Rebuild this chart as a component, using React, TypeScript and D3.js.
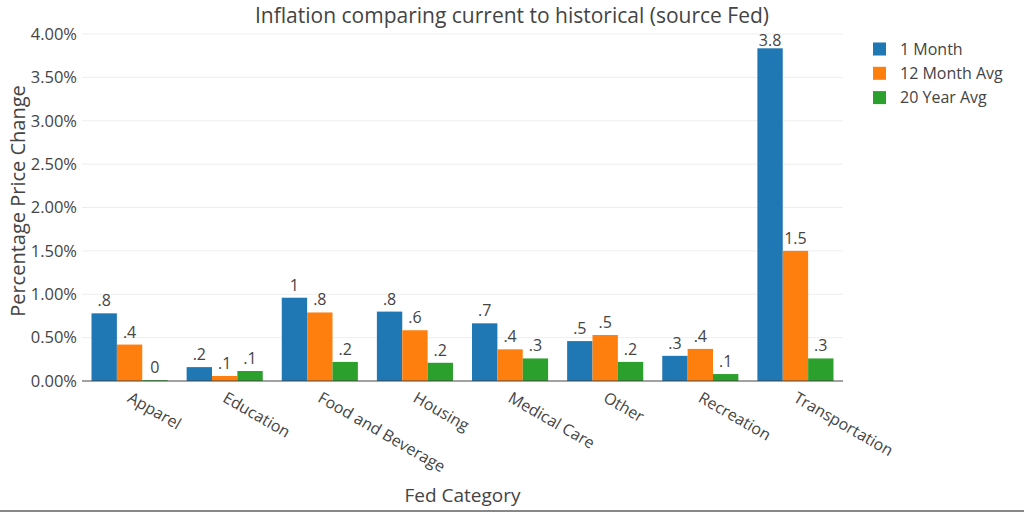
import React from "react";
import * as d3 from "d3";

const categories = ["Apparel", "Education", "Food and Beverage", "Housing", "Medical Care", "Other", "Recreation", "Transportation"];
const seriesNames = ["1 Month", "12 Month Avg", "20 Year Avg"];
const oneMonth = [0.78, 0.16, 0.96, 0.8, 0.665, 0.46, 0.29, 3.835];
const twelveMonthAvg = [0.42, 0.058, 0.79, 0.585, 0.365, 0.53, 0.37, 1.5];
const twentyYearAvg = [0.01, 0.115, 0.22, 0.21, 0.26, 0.22, 0.08, 0.26];
const yTicks = [0, 0.5, 1, 1.5, 2, 2.5, 3, 3.5, 4];
const colors = ["#1f77b4", "#ff7f0e", "#2ca02c"];

const W = 1024;
const H = 512;
const left = 82;
const right = 843;
const top = 34;
const bottom = 381;
const font = "'Open Sans', 'Noto Sans', sans-serif";
const textColor = "#444";

function label(v: number): string {
  let s = v.toFixed(1);
  if (s.endsWith(".0")) s = s.slice(0, -2);
  if (s.startsWith("0.")) s = s.slice(1);
  return s;
}

export default function App() {
  const series = [oneMonth, twelveMonthAvg, twentyYearAvg];
  const x = d3.scaleBand<string>().domain(categories).range([left, right]).paddingInner(0.2).paddingOuter(0.1);
  const xs = d3.scaleBand<string>().domain(seriesNames).range([0, x.bandwidth()]).padding(0);
  const y = d3.scaleLinear().domain([0, 4]).range([bottom, top]);
  const fmt = d3.format(".2f");

  return (
    <svg width={W} height={H} style={{ position: "fixed", left: 0, top: 0, background: "#fff" }} fontFamily={font}>
      <rect x={0} y={0} width={W} height={H} fill="#fff" />
      {yTicks.filter((t) => t > 0).map((t) => (
        <line key={"g" + t} x1={left} x2={right} y1={y(t)} y2={y(t)} stroke="#eee" strokeWidth={1} />
      ))}
      {yTicks.map((t) => (
        <text key={"t" + t} x={77} y={y(t)} dy="0.35em" textAnchor="end" fontSize={16.5} fill={textColor}>
          {fmt(t) + "%"}
        </text>
      ))}
      {categories.map((c, i) =>
        series.map((s, j) => {
          const v = s[i];
          const bx = (x(c) as number) + (xs(seriesNames[j]) as number);
          const bw = xs.bandwidth();
          const ly = Math.max(y(v) - 7, top + 12);
          return (
            <g key={c + j}>
              <rect x={bx} y={y(v)} width={bw} height={y(0) - y(v)} fill={colors[j]} />
              <text x={bx + bw / 2} y={ly} textAnchor="middle" fontSize={16} fill={textColor}>
                {label(v)}
              </text>
            </g>
          );
        })
      )}
      <line x1={left} x2={right} y1={y(0)} y2={y(0)} stroke="#444" strokeWidth={1} />
      {categories.map((c) => {
        const cx = (x(c) as number) + x.bandwidth() / 2 - 3;
        return (
          <text key={"x" + c} transform={`translate(${cx},${bottom + 20}) rotate(30)`} textAnchor="start" fontSize={16} fill={textColor}>
            {c}
          </text>
        );
      })}
      <text x={(left + right) / 2} y={502} textAnchor="middle" fontSize={19} fill={textColor}>
        Fed Category
      </text>
      <text transform={`translate(25,201) rotate(-90)`} textAnchor="middle" fontSize={20} fill={textColor}>
        Percentage Price Change
      </text>
      <text x={512} y={22.5} textAnchor="middle" fontSize={21} fill={textColor}>
        Inflation comparing current to historical (source Fed)
      </text>
      {seriesNames.map((n, j) => (
        <g key={"l" + n} transform={`translate(873,${49 + j * 24.3})`}>
          <rect x={0} y={-6.5} width={13} height={13} fill={colors[j]} />
          <text x={27} y={0} dy="0.35em" fontSize={16} fill={textColor}>
            {n}
          </text>
        </g>
      ))}
      <line x1={0} x2={W} y1={511} y2={511} stroke="#888" strokeWidth={2} />
    </svg>
  );
}
